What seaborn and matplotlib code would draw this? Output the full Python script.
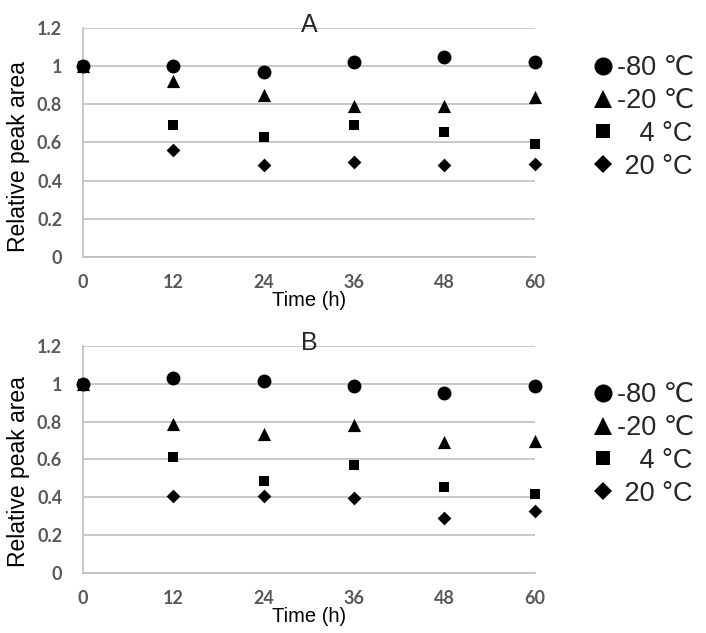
import matplotlib
matplotlib.use("Agg")
import matplotlib.pyplot as plt
import seaborn as sns
import pandas as pd
from matplotlib.lines import Line2D

#####################################################################
# Data
#####################################################################
times = [0, 12, 24, 36, 48, 60]
temps = ["-80 ℃", "-20 ℃", "4 °C", "20 °C"]

a_m80 = [1.0, 1.00, 0.97, 1.02, 1.05, 1.02]
a_m20 = [1.0, 0.92, 0.85, 0.79, 0.79, 0.84]
a_p4 = [1.0, 0.69, 0.63, 0.69, 0.655, 0.59]
a_p20 = [1.0, 0.56, 0.48, 0.50, 0.48, 0.487]

b_m80 = [1.0, 1.03, 1.015, 0.99, 0.95, 0.99]
b_m20 = [1.0, 0.785, 0.735, 0.78, 0.69, 0.70]
b_p4 = [1.0, 0.615, 0.485, 0.57, 0.455, 0.42]
b_p20 = [1.0, 0.405, 0.405, 0.397, 0.29, 0.328]

markers = {"-80 ℃": "o", "-20 ℃": "^", "4 °C": "s", "20 °C": "D"}
sizes = {"-80 ℃": 10, "-20 ℃": 9.5, "4 °C": 7.5, "20 °C": 7}
legend_labels = {"-80 ℃": "-80 ℃", "-20 ℃": "-20 ℃", "4 °C": "   4 °C", "20 °C": " 20 °C"}


def to_long(series):
    rows = []
    for t, vals in zip(temps, series):
        for x, y in zip(times, vals):
            rows.append({"Time": x, "Area": y, "Temp": t})
    return pd.DataFrame(rows)


df_a = to_long([a_m80, a_m20, a_p4, a_p20])
df_b = to_long([b_m80, b_m20, b_p4, b_p20])

#####################################################################
# Plot
#####################################################################
sns.set_style("white")
sans = ["Liberation Sans", "DejaVu Sans"]
plt.rcParams["font.family"] = sans

fig = plt.figure(figsize=(7.06, 6.33), dpi=100)
ax_a = fig.add_axes([0.1176, 0.594, 0.640, 0.3618])
ax_b = fig.add_axes([0.1176, 0.0948, 0.640, 0.3586])

grey = "#bfbfbf"
tick_col = "#595959"

panels = [(ax_a, df_a, "A", 0.437, 0.94), (ax_b, df_b, "B", 0.445, 0.90)]
for ax, df, title, ylab_y, leg_y in panels:
    for t in temps[::-1]:
        d = df[df.Temp == t]
        sns.scatterplot(data=d, x="Time", y="Area", marker=markers[t],
                        s=sizes[t] ** 2, color="black", edgecolor="black",
                        linewidth=0, ax=ax, clip_on=False, zorder=3, legend=False)

    ax.set_xlim(0, 60)
    ax.set_ylim(0, 1.2)
    ax.set_xticks(times)
    ax.set_yticks([0, 0.2, 0.4, 0.6, 0.8, 1.0, 1.2])
    ax.set_yticklabels(["0", "0.2", "0.4", "0.6", "0.8", "1", "1.2"])
    ax.yaxis.grid(True, color=grey, lw=1.2)
    ax.xaxis.grid(False)
    for s in ["top", "right"]:
        ax.spines[s].set_visible(False)
    for s in ["left", "bottom"]:
        ax.spines[s].set_color(grey)
        ax.spines[s].set_linewidth(1.2)
    ax.tick_params(axis="both", which="both", length=5, width=1.2, color=grey,
                   labelcolor=tick_col, labelsize=13)
    for lab in ax.get_xticklabels() + ax.get_yticklabels():
        lab.set_fontweight("bold")
        lab.set_family(["Lato", "DejaVu Sans"])
    ax.tick_params(axis="x", pad=7)
    ax.tick_params(axis="y", pad=10)

    ax.set_ylabel("Relative peak area", fontsize=16.5, color="black",
                  labelpad=5, family=sans)
    ax.yaxis.label.set_y(ylab_y)
    ax.set_xlabel("Time (h)", fontsize=14.5, color="black", labelpad=0, family=sans)
    ax.set_title(title, fontsize=18, pad=-3, family=sans)

    handles = [Line2D([], [], ls="", marker=markers[t], color="black",
                      markersize=sizes[t] * 1.3, markeredgewidth=0) for t in temps]
    ax.legend(handles, [legend_labels[t] for t in temps], loc="upper left",
              bbox_to_anchor=(1.1, leg_y), frameon=False,
              prop={"family": sans, "size": 19.5},
              borderpad=0, handlelength=0.7, handletextpad=0.15, labelspacing=0.25)

fig.savefig("out.png", dpi=100)
